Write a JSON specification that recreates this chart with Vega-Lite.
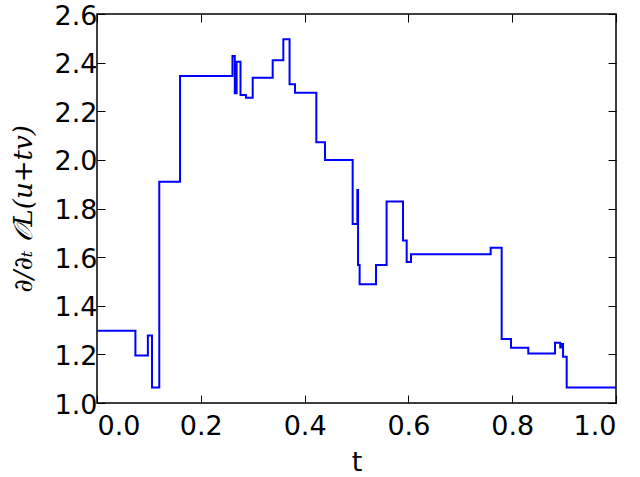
{
  "$schema": "https://vega.github.io/schema/vega-lite/v6.json",
  "width": 519,
  "height": 389,
  "autosize": {"type": "none"},
  "padding": {"left": 97, "top": 14, "right": 24, "bottom": 74},
  "background": "white",
  "config": {
    "view": {"stroke": "black", "strokeWidth": 1.5},
    "axis": {
      "labelFont": "DejaVu Sans",
      "titleFont": "DejaVu Sans",
      "labelFontSize": 27,
      "titleFontSize": 27,
      "labelColor": "black",
      "titleColor": "black",
      "titleFontWeight": "normal",
      "grid": false,
      "domain": false,
      "tickColor": "black",
      "tickWidth": 1,
      "tickSize": -8,
      "labelPadding": 7
    }
  },
  "data": {
    "values": [
      {"t": 0.0, "v": 1.297},
      {"t": 0.074, "v": 1.195},
      {"t": 0.098, "v": 1.278},
      {"t": 0.106, "v": 1.064},
      {"t": 0.120, "v": 1.910},
      {"t": 0.160, "v": 2.345},
      {"t": 0.261, "v": 2.427},
      {"t": 0.2655, "v": 2.274},
      {"t": 0.269, "v": 2.404},
      {"t": 0.2765, "v": 2.267},
      {"t": 0.287, "v": 2.256},
      {"t": 0.300, "v": 2.338},
      {"t": 0.3385, "v": 2.410},
      {"t": 0.359, "v": 2.496},
      {"t": 0.371, "v": 2.311},
      {"t": 0.3815, "v": 2.276},
      {"t": 0.4226, "v": 2.073},
      {"t": 0.4393, "v": 2.000},
      {"t": 0.4926, "v": 1.736},
      {"t": 0.5016, "v": 1.876},
      {"t": 0.503, "v": 1.568},
      {"t": 0.506, "v": 1.488},
      {"t": 0.5376, "v": 1.568},
      {"t": 0.558, "v": 1.829},
      {"t": 0.5896, "v": 1.668},
      {"t": 0.5967, "v": 1.580},
      {"t": 0.605, "v": 1.612},
      {"t": 0.7585, "v": 1.639},
      {"t": 0.7797, "v": 1.263},
      {"t": 0.7977, "v": 1.227},
      {"t": 0.831, "v": 1.204},
      {"t": 0.8825, "v": 1.248},
      {"t": 0.8925, "v": 1.228},
      {"t": 0.8945, "v": 1.243},
      {"t": 0.898, "v": 1.190},
      {"t": 0.905, "v": 1.064},
      {"t": 1.0, "v": 1.064}
    ]
  },
  "layer": [
    {
      "mark": {"type": "line", "interpolate": "step-after", "color": "#0000ff", "strokeWidth": 2},
      "encoding": {
        "x": {
          "field": "t", "type": "quantitative",
          "scale": {"domain": [0, 1], "nice": false, "zero": false},
          "axis": {"title": "t", "values": [0, 0.2, 0.4, 0.6, 0.8, 1.0], "format": ".1f", "labelPadding": 18, "titlePadding": 10}
        },
        "y": {
          "field": "v", "type": "quantitative",
          "scale": {"domain": [1.0, 2.6], "nice": false, "zero": false},
          "axis": {"title": "∂/∂ₜ 𝒪L(u+tv)", "titleFont": "DejaVu Serif", "titleFontStyle": "italic", "titleFontSize": 26, "values": [1.0, 1.2, 1.4, 1.6, 1.8, 2.0, 2.2, 2.4, 2.6], "format": ".1f", "labelPadding": 8, "labelOffset": 2, "titlePadding": 18}
        }
      }
    },
    {
      "mark": {"type": "line", "opacity": 0},
      "encoding": {
        "x": {
          "field": "t", "type": "quantitative",
          "scale": {"domain": [0, 1], "nice": false, "zero": false},
          "axis": {"orient": "top", "title": null, "labels": false, "values": [0, 0.2, 0.4, 0.6, 0.8, 1.0]}
        },
        "y": {
          "field": "v", "type": "quantitative",
          "scale": {"domain": [1.0, 2.6], "nice": false, "zero": false},
          "axis": {"orient": "right", "title": null, "labels": false, "values": [1.0, 1.2, 1.4, 1.6, 1.8, 2.0, 2.2, 2.4, 2.6]}
        }
      }
    }
  ],
  "resolve": {"axis": {"x": "independent", "y": "independent"}}
}
